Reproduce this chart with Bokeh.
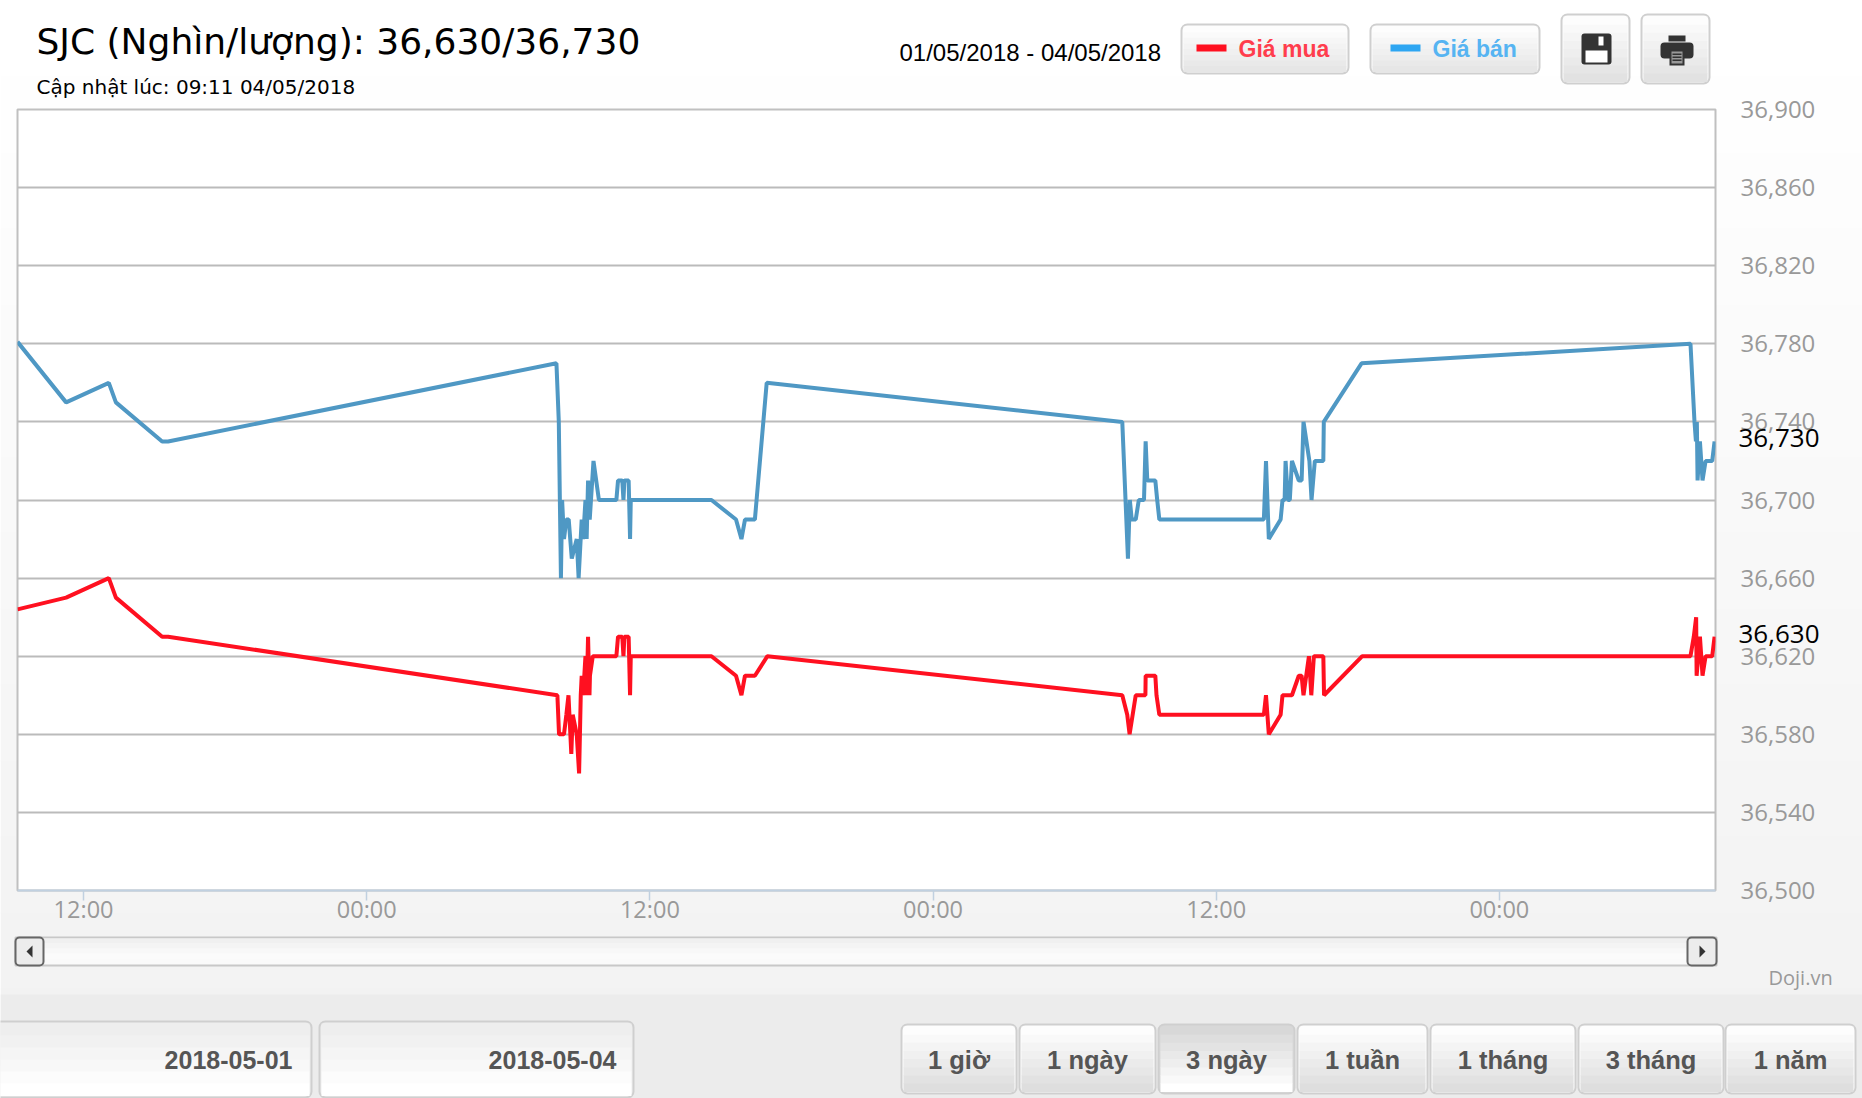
from bokeh.core.properties import value
from bokeh.embed import file_html
from bokeh.layouts import row
from bokeh.resources import INLINE
from bokeh.plotting import figure
from bokeh.models import FixedTicker, NumeralTickFormatter

title_text = "SJC (Nghìn/lượng): 36,630/36,730"
updated_text = "Cập nhật lúc: 09:11 04/05/2018"
date_range_text = "01/05/2018 - 04/05/2018"
buy_name = "Giá mua"
sell_name = "Giá bán"
current_buy = 36630
current_sell = 36730
from_date = "2018-05-01"
to_date = "2018-05-04"
credit = "Doji.vn"
range_buttons = ["1 giờ", "1 ngày", "3 ngày", "1 tuần", "1 tháng", "3 tháng", "1 năm"]

# hours since 2018-05-01 12:00
x_tick_hours = [0, 12, 24, 36, 48, 60]
x_tick_labels = ["12:00", "00:00", "12:00", "00:00", "12:00", "00:00"]
y_ticks = [36500, 36540, 36580, 36620, 36660, 36700, 36740, 36780, 36820, 36860, 36900]

sell_hours = [-2.8, -0.74, 1.07, 1.37, 3.33, 3.58, 20.04, 20.14, 20.23, 20.28, 20.36, 20.46, 20.56, 20.69,
              20.90, 20.98, 21.11, 21.17, 21.27, 21.32, 21.38, 21.45, 21.61, 21.84, 22.58, 22.65, 22.83,
              22.88, 22.92, 23.10, 23.16, 23.19, 26.61, 27.65, 27.88, 28.03, 28.45, 28.95, 44.02, 44.26,
              44.34, 44.42, 44.59, 44.72, 44.94, 45.01, 45.08, 45.42, 45.50, 45.59, 50.02, 50.11, 50.23,
              50.73, 50.81, 50.90, 50.94, 51.04, 51.12, 51.21, 51.50, 51.62, 51.70, 51.95, 52.04, 52.18,
              52.54, 52.56, 54.16, 68.10, 68.27, 68.33, 68.37, 68.40, 68.50, 68.61, 68.74, 69.02, 69.12]
sell_values = [36781, 36750, 36760, 36750, 36730, 36730, 36770, 36740, 36660, 36700, 36680, 36690, 36690, 36670,
               36680, 36660, 36690, 36680, 36700, 36680, 36710, 36690, 36720, 36700, 36700, 36710, 36710,
               36700, 36710, 36710, 36680, 36700, 36700, 36690, 36680, 36690, 36690, 36760, 36740, 36670,
               36700, 36690, 36690, 36700, 36700, 36730, 36710, 36710, 36700, 36690, 36690, 36720, 36680,
               36690, 36700, 36700, 36720, 36700, 36700, 36720, 36710, 36710, 36740, 36720, 36700, 36720,
               36720, 36740, 36770, 36780, 36740, 36730, 36740, 36710, 36730, 36710, 36720, 36720, 36730]

buy_hours = [-2.8, -0.74, 1.07, 1.37, 3.33, 3.58, 20.08, 20.15, 20.36, 20.46, 20.55, 20.67, 20.73, 20.90,
             21.00, 21.07, 21.11, 21.17, 21.27, 21.32, 21.38, 21.44, 21.46, 21.58, 22.58, 22.65, 22.83,
             22.88, 22.92, 23.10, 23.16, 23.19, 26.61, 27.65, 27.88, 28.03, 28.45, 28.98, 44.02, 44.23,
             44.33, 44.59, 45.00, 45.01, 45.42, 45.47, 45.59, 50.02, 50.11, 50.23, 50.73, 50.81, 51.21,
             51.50, 51.62, 51.70, 51.93, 52.03, 52.14, 52.54, 52.57, 54.19, 68.10, 68.24, 68.34, 68.36,
             68.50, 68.61, 68.74, 69.02, 69.12]
buy_values = [36644, 36650, 36660, 36650, 36630, 36630, 36600, 36580, 36580, 36590, 36600, 36570, 36590, 36580,
              36560, 36600, 36610, 36600, 36620, 36600, 36630, 36600, 36610, 36620, 36620, 36630, 36630,
              36620, 36630, 36630, 36600, 36620, 36620, 36610, 36600, 36610, 36610, 36620, 36600, 36590,
              36580, 36600, 36600, 36610, 36610, 36600, 36590, 36590, 36600, 36580, 36590, 36600, 36600,
              36610, 36610, 36600, 36620, 36600, 36620, 36620, 36600, 36620, 36620, 36630, 36640, 36610,
              36630, 36610, 36620, 36620, 36630]

W, H = 1862, 1098
F_LEFT, F_RIGHT, F_TOP, F_BOTTOM = 17, 1715, 109, 890
GREY = "#999999"


def layer(y_range=(H, 0)):
    f = figure(width=W, height=H, output_backend="svg", toolbar_location=None,
               x_range=(0, W), y_range=y_range, x_axis_location=None, y_axis_location=None,
               min_border=0, outline_line_color=None, background_fill_alpha=0, border_fill_alpha=0)
    f.grid.visible = False
    f.frame_align = False
    return f


# --- lowest layer: page chrome, drawn in page pixels
bg = layer()


def box(x0, y0, x1, y1, color, radius=0, line=None, line_width=2):
    bg.quad(left=[x0], right=[x1], top=[y0], bottom=[y1], fill_color=color, line_color=line,
            line_width=line_width, border_radius=radius)


def text(x, y, s, size, color="black", font="Liberation Sans", style="normal", align="left"):
    bg.text(x=[x], y=[y], text=[s], text_font=value(font), text_font_size=value(f"{size}px"),
            text_color=color, text_font_style=style, text_align=align, text_baseline="middle")


def button(x0, y0, x1, y1, top_c, bot_c, steps=8, radius=6):
    box(x0, y0, x1, y1, top_c, radius=radius, line="#cfcfcf", line_width=2)
    c0 = [int(top_c[i:i + 2], 16) for i in (1, 3, 5)]
    c1 = [int(bot_c[i:i + 2], 16) for i in (1, 3, 5)]
    h = (y1 - y0 - 4) / steps
    for k in range(steps):
        t = k / (steps - 1)
        col = "#%02x%02x%02x" % tuple(round(a + (b - a) * t) for a, b in zip(c0, c1))
        box(x0 + 2, y0 + 2 + k * h, x1 - 2, y0 + 2 + (k + 1) * h + 0.5, col)


band = 76
for i in range(14):
    v = 255 - i
    box(0, i * band, W, (i + 1) * band + 1, "#%02x%02x%02x" % (v, v, v))
box(0, 994, W, H, "#ececec")

text(36, 41, title_text, 36, font="DejaVu Sans")
text(36, 86, updated_text, 20, font="DejaVu Sans")
text(899, 52, date_range_text, 24)

button(1181, 24, 1348, 73, "#fdfdfd", "#e6e6e6")
box(1196, 44, 1226, 51, "#ff1020")
text(1238, 48, buy_name, 23, color="#ff3d4d", style="bold")
button(1370, 24, 1539, 73, "#fdfdfd", "#e6e6e6")
box(1390, 44, 1420, 51, "#2ea6f2")
text(1432, 48, sell_name, 23, color="#56b4f2", style="bold")

# save icon
button(1561, 14, 1629, 83, "#fdfdfd", "#e2e2e2")
box(1581, 33, 1611, 64, "#333333", radius=3)
box(1585, 50, 1607, 62, "white")
box(1598, 36, 1603, 45, "white")
# print icon
button(1641, 14, 1709, 83, "#fdfdfd", "#e2e2e2")
box(1668, 35, 1685, 41, "#333333")
box(1660, 42, 1693, 58, "#333333", radius=4)
box(1669, 49, 1684, 65, "#333333")
box(1671, 51, 1682, 63, "#999999")
for yy in (53, 56, 59):
    box(1672, yy, 1681, yy + 1.5, "#333333")

# scrollbar
box(15, 937, 1716, 965, "#fafafa", line="#c8c8c8", line_width=2)
for k, col in enumerate(["#f0f0f0", "#f4f4f4", "#f8f8f8", "#fbfbfb"]):
    box(43, 938 + k * 5, 1686, 943 + k * 5, col)
box(15, 937, 43, 965, "#ececec", radius=4, line="#666666", line_width=2)
box(1687, 937, 1716, 965, "#ececec", radius=4, line="#666666", line_width=2)
bg.patch([32, 32, 26], [945, 957, 951], fill_color="#333333", line_color=None)
bg.patch([1699, 1699, 1705], [945, 957, 951], fill_color="#333333", line_color=None)
text(1768, 977, credit, 20, color=GREY, font="Open Sans")

# footer
button(-6, 1021, 311, 1097, "#eeeeee", "#ffffff", steps=6)
button(319, 1021, 633, 1097, "#eeeeee", "#ffffff", steps=6)
text(292, 1059, from_date, 25, color="#555555", style="bold", align="right")
text(616, 1059, to_date, 25, color="#555555", style="bold", align="right")

edges = [(901, 1016), (1019, 1155), (1158, 1294), (1297, 1427), (1430, 1575), (1578, 1723), (1725, 1855)]
for label, (x0, x1) in zip(range_buttons, edges):
    if label == "3 ngày":
        button(x0, 1024, x1, 1093, "#d8d8d8", "#ffffff")
    else:
        button(x0, 1024, x1, 1093, "#fdfdfd", "#dedede")
    text((x0 + x1) / 2, 1059, label, 25.5, color="#555555", style="bold", align="center")

# --- middle layer: the chart itself, with its own scales and axes
p = figure(width=W, height=H, output_backend="svg", toolbar_location=None,
           x_range=(-2.8, 69.16), y_range=(36500, 36900), y_axis_location="right",
           min_border_left=F_LEFT, min_border_right=W - F_RIGHT, min_border_top=F_TOP, min_border_bottom=H - F_BOTTOM,
           background_fill_color="white", border_fill_alpha=0,
           outline_line_color="#c0c0c0", outline_line_width=2)
p.margin = (0, 0, 0, -W)
p.frame_align = False

p.line(sell_hours, sell_values, line_color="#4f98c4", line_width=4, line_join="bevel")
p.line(buy_hours, buy_values, line_color="#ff1020", line_width=4, line_join="bevel")

p.xgrid.visible = False
p.ygrid.ticker = FixedTicker(ticks=y_ticks)
p.ygrid.grid_line_color = "#bbbbbb"
p.ygrid.grid_line_width = 2

ax = p.yaxis[0]
ax.ticker = FixedTicker(ticks=y_ticks)
ax.formatter = NumeralTickFormatter(format="0,0")
ax.axis_line_color = None
ax.major_tick_line_color = None
ax.minor_tick_line_color = None
ax.major_tick_out = 0
ax.major_tick_in = 0
ax.major_label_standoff = 25
ax.major_label_text_color = GREY
ax.major_label_text_font = "Open Sans"
ax.major_label_text_font_size = "24px"

xa = p.xaxis[0]
xa.ticker = FixedTicker(ticks=x_tick_hours)
xa.major_label_overrides = dict(zip(x_tick_hours, x_tick_labels))
xa.axis_line_color = "#c0d0e0"
xa.axis_line_width = 2
xa.major_tick_line_color = "#c0d0e0"
xa.major_tick_line_width = 1.5
xa.major_tick_in = 0
xa.major_tick_out = 10
xa.minor_tick_line_color = None
xa.major_label_standoff = -8
xa.major_label_text_color = GREY
xa.major_label_text_font = "Open Sans"
xa.major_label_text_font_size = "23.5px"

# --- top layer: current prices, on the same price scale as the chart
per_px = 400 / (F_BOTTOM - F_TOP)
top = layer(y_range=(36500 - (H - F_BOTTOM) * per_px, 36900 + F_TOP * per_px))
top.margin = (0, 0, 0, -W)
top.text(x=[1738, 1738], y=[current_sell, current_buy], text=[f"{current_sell:,}", f"{current_buy:,}"],
         text_font=value("Open Sans"), text_font_size=value("26px"), text_color="black",
         text_baseline="middle", y_offset=-3)

page = row(bg, p, top)
open("out.html", "w").write(file_html(page, INLINE))
